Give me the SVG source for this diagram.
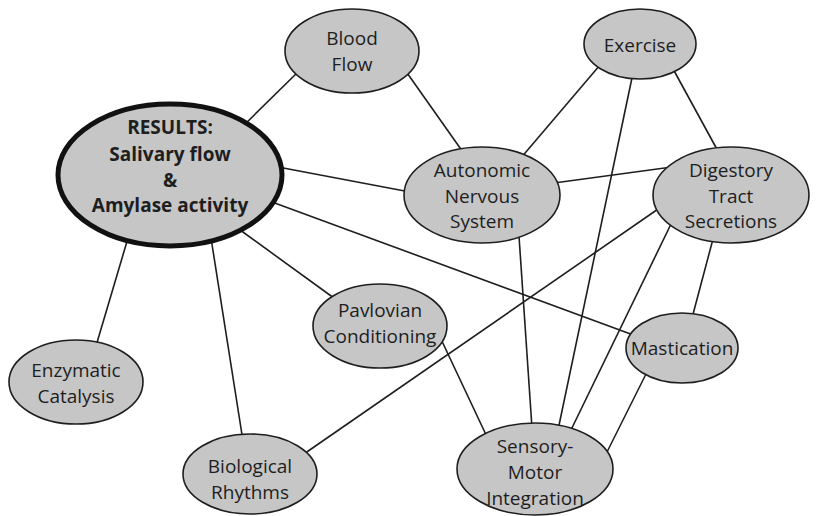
<svg xmlns="http://www.w3.org/2000/svg" width="818" height="516" viewBox="0 0 818 516">
<style>
.n{fill:#c6c6c6;stroke:#1e1e1e;stroke-width:1.6}
.main{fill:#c6c6c6;stroke:#111;stroke-width:5}
.c line{stroke:#1e1e1e;stroke-width:1.6}
text{font-family:"Open Sans","Liberation Sans",sans-serif;font-size:19px;fill:#1e1e1e;text-anchor:middle}
.b{font-weight:bold}
</style>
<rect width="818" height="516" fill="#fff"/>
<g id="connectors" class="c">
<line x1="240" y1="129" x2="300" y2="70"/>
<line x1="405" y1="70" x2="465" y2="155"/>
<line x1="278" y1="167" x2="410" y2="192"/>
<line x1="272" y1="202" x2="636" y2="336"/>
<line x1="128" y1="238" x2="96" y2="346"/>
<line x1="211" y1="238" x2="243" y2="441"/>
<line x1="236" y1="227" x2="338" y2="301"/>
<line x1="600" y1="65" x2="520" y2="159"/>
<line x1="633" y1="73" x2="558" y2="430"/>
<line x1="672" y1="67" x2="719" y2="153"/>
<line x1="554" y1="183" x2="672" y2="167"/>
<line x1="519" y1="236" x2="532" y2="428"/>
<line x1="661" y1="207" x2="301" y2="456"/>
<line x1="672" y1="222" x2="570" y2="432"/>
<line x1="713" y1="239" x2="692" y2="318"/>
<line x1="440" y1="337" x2="488" y2="439"/>
<line x1="648" y1="370" x2="604" y2="458"/>
</g>
<g id="results">
<ellipse class="main" cx="170" cy="175" rx="112" ry="71"/>
<text class="b" x="170" y="134">RESULTS:</text>
<text class="b" x="170" y="161">Salivary flow</text>
<text class="b" x="170" y="187">&amp;</text>
<text class="b" x="170" y="212">Amylase activity</text>
</g>
<g id="blood-flow">
<ellipse class="n" cx="352" cy="51" rx="67" ry="42"/>
<text x="352" y="45">Blood</text>
<text x="352" y="71">Flow</text>
</g>
<g id="exercise">
<ellipse class="n" cx="640" cy="44" rx="56" ry="35"/>
<text x="640" y="52">Exercise</text>
</g>
<g id="autonomic">
<ellipse class="n" cx="482" cy="195" rx="78" ry="48"/>
<text x="482" y="177">Autonomic</text>
<text x="482" y="203">Nervous</text>
<text x="482" y="228">System</text>
</g>
<g id="digestory">
<ellipse class="n" cx="731" cy="195" rx="78" ry="48"/>
<text x="731" y="177">Digestory</text>
<text x="731" y="203">Tract</text>
<text x="731" y="228">Secretions</text>
</g>
<g id="enzymatic">
<ellipse class="n" cx="76" cy="382" rx="67" ry="42"/>
<text x="76" y="377">Enzymatic</text>
<text x="76" y="403">Catalysis</text>
</g>
<g id="pavlovian">
<ellipse class="n" cx="380" cy="326" rx="67" ry="42"/>
<text x="380" y="317">Pavlovian</text>
<text x="380" y="343">Conditioning</text>
</g>
<g id="mastication">
<ellipse class="n" cx="682" cy="348" rx="56" ry="35"/>
<text x="682" y="355">Mastication</text>
</g>
<g id="biological">
<ellipse class="n" cx="250" cy="474" rx="67" ry="40"/>
<text x="250" y="473">Biological</text>
<text x="250" y="499">Rhythms</text>
</g>
<g id="sensory-motor">
<ellipse class="n" cx="535" cy="469" rx="78" ry="46"/>
<text x="535" y="453">Sensory-</text>
<text x="535" y="479">Motor</text>
<text x="535" y="505">Integration</text>
</g>
</svg>
